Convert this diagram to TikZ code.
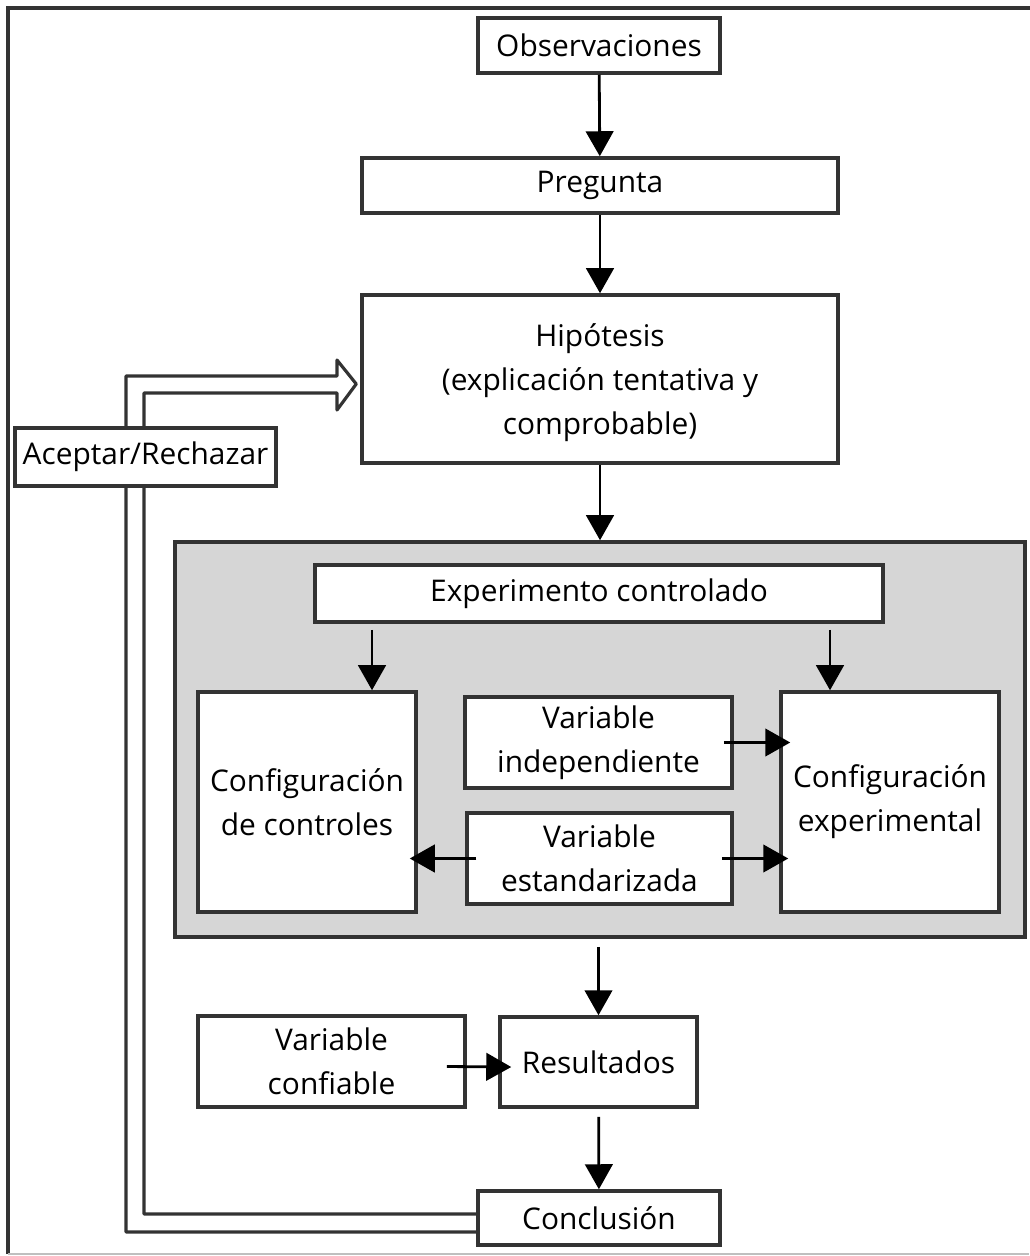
\documentclass[tikz,border=0pt]{standalone}
\usepackage{fontspec}
\setmainfont{Open Sans}
\usetikzlibrary{arrows.meta}
\definecolor{linegray}{HTML}{333333}
\definecolor{panelgray}{HTML}{D6D6D6}

\begin{document}
\begin{tikzpicture}[
    box/.style={draw=linegray, line width=2pt, fill=white, align=center, inner sep=2pt, font=\fontsize{17}{25}\selectfont},
    panel/.style={draw=linegray, line width=2pt, fill=panelgray, inner sep=0pt},
    arr/.style={line width=1.6pt, -{Triangle[length=0.5cm, width=0.55cm]}},
    loopline/.style={draw=linegray, line width=1.8pt, line join=round}
]
    % Page frame
    \useasboundingbox (0,0) rectangle (20.58,-25.12);
    \draw[linegray, line width=2.4pt] (0.16,-25.08) -- (0.16,-0.16) -- (20.7,-0.16);
    \draw[gray!50, line width=0.6pt] (0.16,-25.08) -- (20.58,-25.08);

    % Controlled experiment panel
    \node[panel, minimum width=17cm, minimum height=7.9cm] (panel) at (12.0,-14.79) {};

    % Main chain
    \node[box, minimum width=4.84cm, minimum height=1.10cm] (obs) at (11.98,-0.91) {Observaciones};
    \node[box, minimum width=9.52cm, minimum height=1.10cm] (preg) at (12.0,-3.71) {Pregunta};
    \node[box, minimum width=9.52cm, minimum height=3.36cm, text depth=0pt] (hip) at (12.0,-7.58) {Hipótesis\\(explicación tentativa y\\comprobable)};
    \node[box, minimum width=11.36cm, minimum height=1.14cm] (exp) at (11.98,-11.87) {Experimento controlado};
    \node[box, minimum width=4.36cm, minimum height=4.40cm] (ctrl) at (6.14,-16.04) {Configuración\\de controles};
    \node[box, minimum width=5.34cm, minimum height=1.82cm] (vind) at (11.97,-14.85) {Variable\\independiente};
    \node[box, minimum width=5.30cm, minimum height=1.82cm] (vest) at (11.99,-17.17) {Variable\\estandarizada};
    \node[box, minimum width=4.36cm, minimum height=4.40cm] (cexp) at (17.80,-16.04) {Configuración\\experimental};
    \node[box, minimum width=5.34cm, minimum height=1.82cm] (vconf) at (6.63,-21.23) {Variable\\confiable};
    \node[box, minimum width=3.94cm, minimum height=1.80cm] (res) at (11.97,-21.24) {Resultados};
    \node[box, minimum width=4.84cm, minimum height=1.08cm] (concl) at (11.98,-24.36) {Conclusión};

    % Feedback loop (hollow double arrow)
    \draw[loopline] ([yshift=-0.28cm]concl.west) -| (2.52,-7.52) -- (6.74,-7.52) -- (6.74,-7.20)
        -- ([xshift=-0.08cm, yshift=-0.10cm]hip.west) -- (6.74,-8.20) -- (6.74,-7.86)
        -- (2.88,-7.86) |- ([yshift=0.08cm]concl.west);
    \node[box, minimum width=5.22cm, minimum height=1.16cm] (acep) at (2.91,-9.14) {Aceptar/Rechazar};

    % Arrows
    \draw[arr] (obs) -- (preg);
    \draw[arr] (preg) -- (hip);
    \draw[arr] (hip) -- (panel);
    \draw[arr, shorten <=0.12cm] ([xshift=1.3cm]ctrl.north |- exp.south) -- ([xshift=1.3cm]ctrl.north);
    \draw[arr, shorten <=0.12cm] ([xshift=-1.2cm]cexp.north |- exp.south) -- ([xshift=-1.2cm]cexp.north);
    \draw[arr] ([xshift=-0.2cm]vind.east) -- ([xshift=0.22cm]cexp.west |- vind.east);
    \draw[arr] ([xshift=0.22cm]vest.west) -- ([xshift=-0.16cm]ctrl.east |- vest.west);
    \draw[arr] ([xshift=-0.24cm]vest.east) -- ([xshift=0.18cm]cexp.west |- vest.east);
    \draw[arr, shorten <=0.16cm] (panel.south -| res.north) -- (res.north);
    \draw[arr] ([xshift=-0.4cm, yshift=-0.1cm]vconf.east) -- ([xshift=0.26cm, yshift=-0.1cm]res.west);
    \draw[arr, shorten <=0.16cm] (res) -- (concl);
\end{tikzpicture}
\end{document}
